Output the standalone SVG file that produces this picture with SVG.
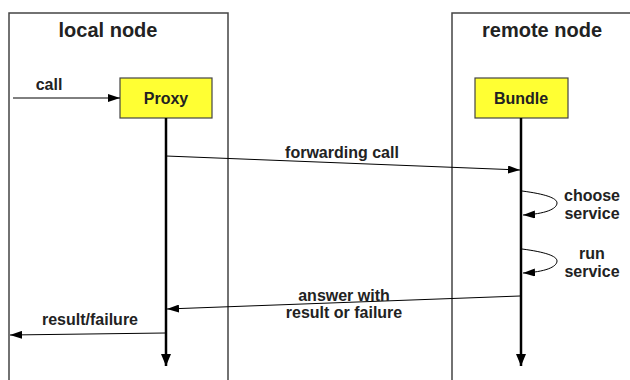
<svg xmlns="http://www.w3.org/2000/svg" width="630" height="380" viewBox="0 0 630 380">
<defs>
<style>
text{font-family:"Liberation Sans",Arial,sans-serif;font-weight:bold;fill:#222;}
.t{font-size:20px;text-anchor:middle;}
.l{font-size:16px;text-anchor:middle;}
.frame{fill:none;stroke:#444;stroke-width:1.5;}
.box{fill:#ffff33;stroke:#444;stroke-width:1.2;}
.life{stroke:#000;stroke-width:2.5;fill:none;}
.msg{stroke:#000;stroke-width:1;fill:none;}
</style>
<marker id="ah" markerWidth="12" markerHeight="8" refX="12" refY="4" orient="auto" markerUnits="userSpaceOnUse">
<path d="M0,0 L12,4 L0,8 Z" fill="#000"/>
</marker>
<marker id="ahl" markerWidth="12" markerHeight="10" refX="12" refY="5" orient="auto" markerUnits="userSpaceOnUse">
<path d="M0,0 L12,5 L0,10 Z" fill="#000"/>
</marker>
</defs>
<g id="local-node">
<path class="frame" d="M9,380 V13 H228 V380"/>
<text class="t" x="108" y="37">local node</text>
</g>
<g id="remote-node">
<path class="frame" d="M452,380 V13 H632"/>
<text class="t" x="542" y="37">remote node</text>
</g>
<g id="proxy">
<rect class="box" x="120" y="78" width="92" height="40"/>
<text class="l" x="166" y="104">Proxy</text>
</g>
<g id="bundle">
<rect class="box" x="475" y="78" width="93" height="40"/>
<text class="l" x="521" y="104">Bundle</text>
</g>
<g id="connectors">
<line class="life" x1="166" y1="118" x2="166" y2="366" marker-end="url(#ahl)"/>
<line class="life" x1="521" y1="118" x2="521" y2="366" marker-end="url(#ahl)"/>
<line class="msg" x1="13" y1="98" x2="120" y2="98" marker-end="url(#ah)"/>
<text class="l" x="49" y="90">call</text>
<line class="msg" x1="166" y1="156" x2="520" y2="170" marker-end="url(#ah)"/>
<text class="l" x="342" y="158">forwarding call</text>
<path class="msg" d="M522,191 C545,194 557,198 557,203 C557,209 545,214 523,215" marker-end="url(#ah)"/>
<text class="l" x="592" y="201">choose</text>
<text class="l" x="592" y="219">service</text>
<path class="msg" d="M522,249 C545,252 557,256 557,261 C557,267 545,272 523,273" marker-end="url(#ah)"/>
<text class="l" x="592" y="259">run</text>
<text class="l" x="592" y="277">service</text>
<line class="msg" x1="520" y1="296" x2="167" y2="309" marker-end="url(#ah)"/>
<text class="l" x="344" y="301">answer with</text>
<text class="l" x="344" y="318">result or failure</text>
<line class="msg" x1="165" y1="333" x2="10" y2="335" marker-end="url(#ah)"/>
<text class="l" x="90" y="325">result/failure</text>
</g>
</svg>
